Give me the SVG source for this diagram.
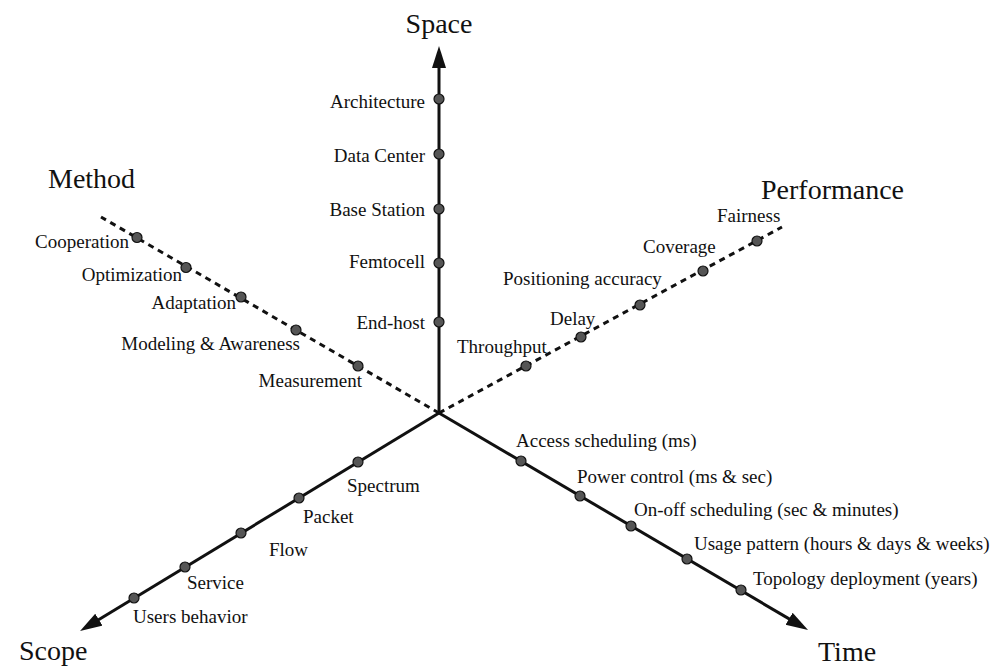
<svg xmlns="http://www.w3.org/2000/svg" width="1005" height="668" viewBox="0 0 1005 668">
<style>
.ax{stroke:#111;stroke-width:3;fill:none}
.dash{stroke:#111;stroke-width:3;fill:none;stroke-dasharray:6 5}
.dot{fill:#555;stroke:#111;stroke-width:1.2}
text{font-family:"Liberation Serif","Times New Roman",serif;fill:#111}
.s{font-size:19px}
.b{font-size:28px}
</style>
<defs>
<marker id="arr" markerUnits="userSpaceOnUse" markerWidth="24" markerHeight="16" refX="10" refY="7" orient="auto">
<path d="M0,0 L22,7 L0,14 z" fill="#111"/>
</marker>
</defs>
<rect width="1005" height="668" fill="#fff"/>
<g id="connectors">
<line class="dash" x1="439" y1="413" x2="101" y2="217"/>
<line class="dash" x1="439" y1="413" x2="782" y2="227"/>
<line class="ax" x1="439" y1="413" x2="439" y2="58" marker-end="url(#arr)"/>
<line class="ax" x1="439" y1="413" x2="90.3" y2="624.8" marker-end="url(#arr)"/>
<line class="ax" x1="439" y1="413" x2="797.7" y2="623.9" marker-end="url(#arr)"/>
</g>
<g id="axis-labels">
<text class="b" x="439" y="33" text-anchor="middle">Space</text>
<text class="b" x="48" y="188">Method</text>
<text class="b" x="761" y="199">Performance</text>
<text class="b" x="19" y="660">Scope</text>
<text class="b" x="818" y="661">Time</text>
</g>
<g id="space">
<g id="architecture"><circle class="dot" cx="439" cy="99" r="5"/><text class="s" x="425" y="108" text-anchor="end">Architecture</text></g>
<g id="data-center"><circle class="dot" cx="439" cy="154" r="5"/><text class="s" x="425" y="162" text-anchor="end">Data Center</text></g>
<g id="base-station"><circle class="dot" cx="439" cy="209" r="5"/><text class="s" x="425" y="216" text-anchor="end">Base Station</text></g>
<g id="femtocell"><circle class="dot" cx="439" cy="263" r="5"/><text class="s" x="425" y="268" text-anchor="end">Femtocell</text></g>
<g id="end-host"><circle class="dot" cx="439" cy="322" r="5"/><text class="s" x="425" y="329" text-anchor="end">End-host</text></g>
</g>
<g id="method">
<g id="cooperation"><circle class="dot" cx="137" cy="237.5" r="5"/><text class="s" x="129" y="248" text-anchor="end">Cooperation</text></g>
<g id="optimization"><circle class="dot" cx="186" cy="267.5" r="5"/><text class="s" x="182" y="281" text-anchor="end">Optimization</text></g>
<g id="adaptation"><circle class="dot" cx="241" cy="297" r="5"/><text class="s" x="236" y="309" text-anchor="end">Adaptation</text></g>
<g id="modeling"><circle class="dot" cx="296" cy="330" r="5"/><text class="s" x="300" y="350" text-anchor="end">Modeling &amp; Awareness</text></g>
<g id="measurement"><circle class="dot" cx="358" cy="366" r="5"/><text class="s" x="362" y="387" text-anchor="end">Measurement</text></g>
</g>
<g id="performance">
<g id="throughput"><circle class="dot" cx="526" cy="366" r="5"/><text class="s" x="457" y="353">Throughput</text></g>
<g id="delay"><circle class="dot" cx="581" cy="337" r="5"/><text class="s" x="550" y="325">Delay</text></g>
<g id="positioning"><circle class="dot" cx="640" cy="305" r="5"/><text class="s" x="503" y="285">Positioning accuracy</text></g>
<g id="coverage"><circle class="dot" cx="703" cy="271" r="5"/><text class="s" x="643" y="253">Coverage</text></g>
<g id="fairness"><circle class="dot" cx="757" cy="241" r="5"/><text class="s" x="717" y="222">Fairness</text></g>
</g>
<g id="scope">
<g id="spectrum"><circle class="dot" cx="358" cy="462" r="5"/><text class="s" x="347" y="492">Spectrum</text></g>
<g id="packet"><circle class="dot" cx="299" cy="498" r="5"/><text class="s" x="303" y="523">Packet</text></g>
<g id="flow"><circle class="dot" cx="241" cy="533" r="5"/><text class="s" x="269" y="556">Flow</text></g>
<g id="service"><circle class="dot" cx="185" cy="567" r="5"/><text class="s" x="187" y="589">Service</text></g>
<g id="users-behavior"><circle class="dot" cx="134" cy="598" r="5"/><text class="s" x="133" y="623">Users behavior</text></g>
</g>
<g id="time">
<g id="access"><circle class="dot" cx="521" cy="461" r="5"/><text class="s" x="516" y="447">Access scheduling (ms)</text></g>
<g id="power"><circle class="dot" cx="580" cy="496" r="5"/><text class="s" x="577" y="483">Power control (ms &amp; sec)</text></g>
<g id="onoff"><circle class="dot" cx="631" cy="526" r="5"/><text class="s" x="634" y="516">On-off scheduling (sec &amp; minutes)</text></g>
<g id="usage"><circle class="dot" cx="687" cy="559" r="5"/><text class="s" x="694" y="550">Usage pattern (hours &amp; days &amp; weeks)</text></g>
<g id="topology"><circle class="dot" cx="741" cy="590" r="5"/><text class="s" x="753" y="585">Topology deployment (years)</text></g>
</g>
</svg>
